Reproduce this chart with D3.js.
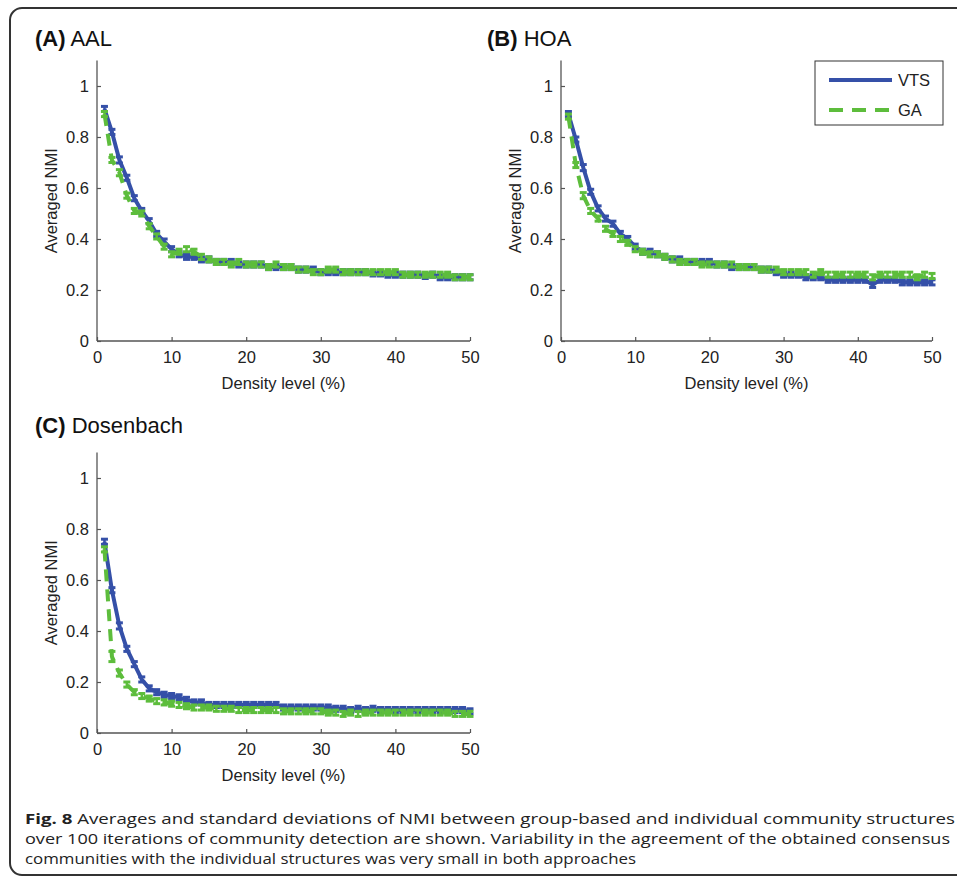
<!DOCTYPE html>
<html><head><meta charset="utf-8">
<script src="https://cdn.jsdelivr.net/npm/d3@7/dist/d3.min.js"></script>
<style>body{margin:0;background:#fff}svg{display:block}</style>
</head><body>
<svg id="c" width="957" height="882"></svg>
<script>
const density = d3.range(1, 51);
const xTicks = [0, 10, 20, 30, 40, 50];
const yTicks = [0, 0.2, 0.4, 0.6, 0.8, 1];
const yTickLabels = ["0", "0.2", "0.4", "0.6", "0.8", "1"];
const seriesNames = ["VTS", "GA"];

const aalVTS = [0.91,0.82,0.71,0.64,0.56,0.51,0.47,0.42,0.39,0.36,0.34,0.33,0.33,0.32,0.32,0.31,0.31,0.31,0.30,0.30,0.30,0.30,0.29,0.29,0.29,0.29,0.28,0.28,0.28,0.27,0.27,0.27,0.27,0.27,0.27,0.27,0.265,0.265,0.26,0.26,0.26,0.26,0.26,0.255,0.26,0.25,0.25,0.25,0.25,0.25];
const aalGA  = [0.89,0.71,0.66,0.57,0.51,0.50,0.45,0.41,0.37,0.34,0.35,0.36,0.35,0.33,0.32,0.31,0.31,0.30,0.31,0.30,0.30,0.30,0.29,0.30,0.29,0.29,0.28,0.28,0.27,0.27,0.28,0.28,0.27,0.27,0.27,0.27,0.27,0.27,0.27,0.27,0.26,0.26,0.26,0.26,0.26,0.26,0.26,0.25,0.25,0.25];
const hoaVTS = [0.89,0.79,0.68,0.585,0.52,0.48,0.46,0.42,0.40,0.37,0.35,0.35,0.34,0.33,0.32,0.32,0.31,0.31,0.31,0.31,0.30,0.30,0.29,0.29,0.29,0.29,0.28,0.28,0.27,0.26,0.26,0.26,0.25,0.25,0.25,0.24,0.24,0.24,0.24,0.24,0.24,0.22,0.24,0.24,0.24,0.23,0.23,0.23,0.23,0.23];
const hoaGA  = [0.88,0.69,0.57,0.51,0.48,0.44,0.42,0.40,0.385,0.36,0.35,0.34,0.34,0.33,0.32,0.31,0.31,0.31,0.30,0.30,0.30,0.30,0.30,0.29,0.29,0.29,0.28,0.28,0.28,0.27,0.27,0.27,0.27,0.26,0.27,0.26,0.26,0.26,0.26,0.26,0.26,0.25,0.26,0.26,0.26,0.26,0.26,0.25,0.26,0.255];
const dosVTS = [0.75,0.56,0.42,0.33,0.27,0.21,0.175,0.16,0.15,0.145,0.14,0.13,0.12,0.12,0.11,0.11,0.11,0.11,0.11,0.11,0.11,0.11,0.11,0.11,0.10,0.10,0.10,0.10,0.10,0.10,0.10,0.095,0.095,0.09,0.095,0.09,0.095,0.09,0.09,0.09,0.09,0.09,0.09,0.09,0.09,0.09,0.09,0.09,0.09,0.085];
const dosGA  = [0.72,0.30,0.235,0.19,0.16,0.145,0.135,0.125,0.12,0.115,0.11,0.105,0.10,0.10,0.10,0.095,0.095,0.095,0.09,0.09,0.09,0.09,0.09,0.09,0.085,0.085,0.085,0.085,0.085,0.085,0.08,0.08,0.075,0.08,0.075,0.08,0.08,0.08,0.08,0.08,0.08,0.08,0.08,0.08,0.08,0.08,0.08,0.075,0.075,0.075];
const stdSmall = [0.01,0.01,0.012,0.01,0.01,0.01,0.01,0.01,0.01,0.01,0.01,0.01,0.01,0.01,0.01,0.01,0.01,0.01,0.01,0.01,0.01,0.01,0.01,0.01,0.01,0.01,0.01,0.01,0.01,0.01,0.01,0.01,0.01,0.01,0.01,0.01,0.01,0.01,0.01,0.01,0.01,0.01,0.01,0.01,0.01,0.01,0.01,0.01,0.01,0.01];
const stdGAdos = [0.01,0.02,0.012,0.01,0.01,0.01,0.01,0.01,0.01,0.01,0.01,0.01,0.01,0.01,0.01,0.01,0.01,0.01,0.01,0.01,0.01,0.01,0.01,0.01,0.01,0.01,0.01,0.01,0.01,0.01,0.01,0.01,0.01,0.01,0.01,0.01,0.01,0.01,0.01,0.01,0.01,0.01,0.01,0.01,0.01,0.01,0.01,0.01,0.01,0.01];

const panels = [
  {tag:"(A)", name:"AAL", x0:97, x1:470, y0:341, vts:aalVTS, ga:aalGA, sv:stdSmall, sg:stdSmall, tx:35, ty:46, legend:false},
  {tag:"(B)", name:"HOA", x0:561, x1:932, y0:341, vts:hoaVTS, ga:hoaGA, sv:stdSmall, sg:stdSmall, tx:487, ty:46, legend:true},
  {tag:"(C)", name:"Dosenbach", x0:97, x1:470, y0:733, vts:dosVTS, ga:dosGA, sv:stdSmall, sg:stdGAdos, tx:35, ty:433, legend:false}
];

const BLUE = "#3550a8", GREEN = "#5dbd3c", AXIS = "#555";
const FONT = "'Liberation Sans', Arial, sans-serif";
const svg = d3.select("#c");
svg.append("rect").attr("x",10).attr("y",8).attr("width",980).attr("height",867)
  .attr("rx",12).attr("fill","none").attr("stroke","#333").attr("stroke-width",2);

panels.forEach(p => {
  const x = d3.scaleLinear().domain([0,50]).range([p.x0,p.x1]);
  const y = d3.scaleLinear().domain([0,1]).range([p.y0,p.y0-255]);
  const g = svg.append("g");
  const xa = g.append("g").attr("transform",`translate(0,${p.y0})`)
    .call(d3.axisBottom(x).tickValues(xTicks).tickSizeInner(-4).tickSizeOuter(0).tickPadding(10));
  const ya = g.append("g").attr("transform",`translate(${p.x0},0)`)
    .call(d3.axisLeft(y).tickValues(yTicks).tickFormat((d,i)=>yTickLabels[i]).tickSizeInner(-4).tickSizeOuter(0).tickPadding(8));
  [xa,ya].forEach(a=>{
    a.select(".domain").attr("stroke",AXIS).attr("stroke-width",1.3);
    a.selectAll(".tick line").attr("stroke",AXIS).attr("stroke-width",1.2);
    a.selectAll("text").attr("font-family",FONT).attr("font-size",16.5).attr("fill","#222");
  });
  ya.select(".domain").attr("d",`M0,${y(0)}V${y(1.1)}`);
  xa.select(".domain").attr("d",`M${x(0)},0H${x(50)}`);
  const t = g.append("text").attr("x",p.tx).attr("y",p.ty).attr("font-family",FONT).attr("font-size",22).attr("fill","#111");
  t.append("tspan").attr("font-weight","bold").text(p.tag);
  t.append("tspan").text(" " + p.name);
  g.append("text").attr("transform",`translate(${p.x0-46},${(y(0)+y(1.1))/2}) rotate(-90)`)
    .attr("text-anchor","middle").attr("dy","0.35em").attr("font-family",FONT).attr("font-size",16.5).attr("fill","#222").text("Averaged NMI");
  g.append("text").attr("x",(p.x0+p.x1)/2).attr("y",p.y0+48).attr("text-anchor","middle")
    .attr("font-family",FONT).attr("font-size",16.5).attr("fill","#222").text("Density level (%)");
  const line = d3.line().x((d,i)=>x(density[i])).y(d=>y(d));
  const drawSeries = (vals, sd, color, dash) => {
    const sg = g.append("g");
    sg.append("path").datum(vals).attr("d",line).attr("fill","none").attr("stroke",color)
      .attr("stroke-width",4).attr("stroke-dasharray",dash).attr("stroke-linejoin","round");
    vals.forEach((v,i)=>{
      const cx = x(density[i]);
      sg.append("line").attr("x1",cx).attr("x2",cx).attr("y1",y(v-sd[i])).attr("y2",y(v+sd[i])).attr("stroke",color).attr("stroke-width",2.5);
      [v-sd[i], v+sd[i]].forEach(e=>{
        sg.append("line").attr("x1",cx-3.5).attr("x2",cx+3.5).attr("y1",y(e)).attr("y2",y(e)).attr("stroke",color).attr("stroke-width",3);
      });
    });
  };
  drawSeries(p.vts, p.sv, BLUE, null);
  drawSeries(p.ga, p.sg, GREEN, "12,8");
  if (p.legend) {
    const lg = g.append("g");
    lg.append("rect").attr("x",815).attr("y",61).attr("width",128).attr("height",64).attr("fill","#fff").attr("stroke","#333").attr("stroke-width",1);
    [[BLUE,null,80,seriesNames[0]],[GREEN,"14,9",110,seriesNames[1]]].forEach(([c,d,yy,n])=>{
      lg.append("line").attr("x1",829).attr("x2",892).attr("y1",yy).attr("y2",yy).attr("stroke",c).attr("stroke-width",4).attr("stroke-dasharray",d);
      lg.append("text").attr("x",898).attr("y",yy).attr("dy","0.35em").attr("font-family",FONT).attr("font-size",16.5).attr("fill","#222").text(n);
    });
  }
});

const capLines = [
  ["Fig. 8", " Averages and standard deviations of NMI between group-based and individual community structures", 930],
  [null, "over 100 iterations of community detection are shown. Variability in the agreement of the obtained consensus", 925],
  [null, "communities with the individual structures was very small in both approaches", 611]
];
capLines.forEach(([b, r, w], i) => {
  const t = svg.append("text").attr("x",25).attr("y",824 + i*20).attr("font-family","'Open Sans', sans-serif").attr("font-size",14.5).attr("fill","#222")
    .attr("textLength",w).attr("lengthAdjust","spacingAndGlyphs");
  if (b) t.append("tspan").attr("font-weight","bold").text(b);
  t.append("tspan").text(r);
});
</script>
</body></html>
